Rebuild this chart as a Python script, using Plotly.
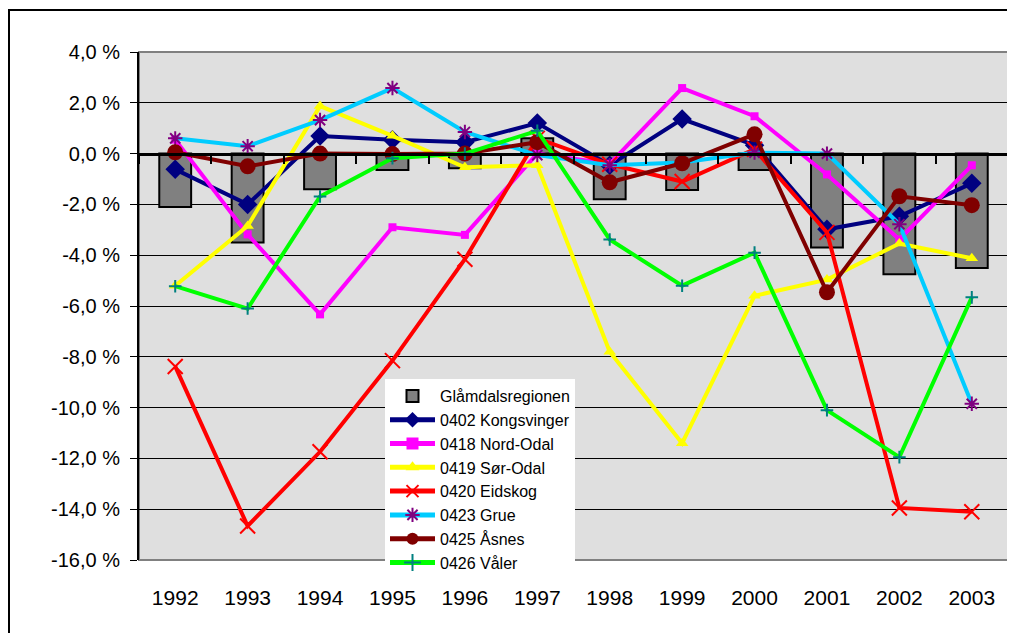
import plotly.graph_objects as go

years = ["1992", "1993", "1994", "1995", "1996", "1997", "1998", "1999", "2000", "2001", "2002", "2003"]

region = [-2.1, -3.5, -1.4, -0.65, -0.58, 0.6, -1.8, -1.43, -0.65, -3.7, -4.75, -4.5]
kongsvinger = [-0.62, -2.0, 0.69, 0.55, 0.45, 1.2, -0.46, 1.36, 0.33, -2.98, -2.47, -1.17]
nord_odal = [0.55, -3.18, -6.33, -2.9, -3.2, 0.0, -0.4, 2.58, 1.47, -0.82, -3.38, -0.46]
sor_odal = [-5.2, -2.85, 1.87, 0.7, -0.54, -0.46, -7.8, -11.4, -5.6, -4.96, -3.54, -4.12]
eidskog = [-8.38, -14.66, -11.74, -8.15, -4.16, 0.6, -0.42, -1.1, 0.17, -3.1, -13.95, -14.1]
grue = [0.6, 0.29, 1.32, 2.58, 0.85, -0.06, -0.46, -0.35, 0.04, 0.0, -2.78, -9.85]
asnes = [0.05, -0.5, 0.0, -0.02, 0.0, 0.45, -1.13, -0.38, 0.76, -5.46, -1.68, -2.03]
valer = [-5.22, -6.1, -1.69, -0.18, 0.0, 0.9, -3.38, -5.2, -3.9, -10.1, -11.95, -5.66]

ytick_vals = [4, 2, 0, -2, -4, -6, -8, -10, -12, -14, -16]
ytick_text = ["4,0 %", "2,0 %", "0,0 %", "-2,0 %", "-4,0 %", "-6,0 %", "-8,0 %",
              "-10,0 %", "-12,0 %", "-14,0 %", "-16,0 %"]

FONT = "Liberation Sans, Arial, sans-serif"

fig = go.Figure()

fig.add_trace(go.Bar(
    x=years, y=region, name="Glåmdalsregionen",
    marker=dict(color="#808080", line=dict(color="black", width=2)),
))

series = [
    ("0402 Kongsvinger", kongsvinger, "#000080", dict(symbol="diamond", size=15, color="#000080")),
    ("0418 Nord-Odal", nord_odal, "#FF00FF", dict(symbol="square", size=8, color="#FF00FF")),
    ("0419 Sør-Odal", sor_odal, "#FFFF00", dict(symbol="triangle-up", size=11, color="#FFFF00")),
    ("0420 Eidskog", eidskog, "#FF0000", dict(symbol="x-thin", size=15, color="#FF0000",
                                             line=dict(color="#FF0000", width=2))),
    ("0423 Grue", grue, "#00CCFF", dict(symbol="asterisk", size=12, color="#800080",
                                      line=dict(color="#800080", width=2))),
    ("0425 Åsnes", asnes, "#800000", dict(symbol="circle", size=16, color="#800000")),
    ("0426 Våler", valer, "#00FF00", dict(symbol="cross-thin", size=9, color="#008080",
                                        line=dict(color="#008080", width=2))),
]
for name, vals, lc, mk in series:
    fig.add_trace(go.Scatter(
        x=years, y=vals, name=name, mode="lines+markers",
        line=dict(color=lc, width=4), marker=mk,
    ))

# secondary x-axis drawn at the zero line with boundary ticks
fig.add_trace(go.Scatter(x=[0], y=[None], xaxis="x2", showlegend=False, hoverinfo="skip"))

# page body has an 8px margin: figure is sized/positioned to compensate
W, H = 1007, 625
ML, MT, MR, MB = 131, 44, 7, 73
PW, PH = W - ML - MR, H - MT - MB

fig.update_layout(
    width=W, height=H,
    margin=dict(l=ML, r=MR, t=MT, b=MB),
    paper_bgcolor="white",
    plot_bgcolor="#dfdfdf",
    font=dict(family=FONT, size=20, color="black"),
    bargap=0.56,
    showlegend=True,
    legend=dict(
        x=(385 - 8 - ML) / PW, y=(MT + PH - (379 - 8)) / PH, xanchor="left", yanchor="top",
        bgcolor="white", borderwidth=0,
        font=dict(family=FONT, size=16, color="black"),
        tracegroupgap=0, itemsizing="constant", itemwidth=45,
    ),
    xaxis=dict(
        type="category", categoryorder="array", categoryarray=years,
        range=[-0.5, 11.5],
        showline=False, showgrid=False, zeroline=False,
        ticks="outside", ticklen=19, tickcolor="rgba(0,0,0,0)",
        tickfont=dict(family=FONT, size=21),
    ),
    xaxis2=dict(
        overlaying="x", anchor="free", position=0.8, side="bottom",
        range=[-0.5, 11.5], showgrid=False, zeroline=False,
        showline=True, linecolor="black", linewidth=3,
        tickvals=[i - 0.5 for i in range(13)],
        ticks="outside", ticklen=8, tickwidth=2, tickcolor="black",
        showticklabels=False,
    ),
    yaxis=dict(
        range=[-16, 4], tickvals=ytick_vals, ticktext=ytick_text,
        showgrid=True, gridcolor="black", gridwidth=1,
        zeroline=False,
        showline=True, linecolor="black", linewidth=2,
        ticks="outside", ticklen=7, tickcolor="black",
        ticklabelstandoff=6,
        tickfont=dict(family=FONT, size=20),
    ),
    shapes=[
        dict(type="rect", xref="paper", yref="paper", x0=0, x1=1, y0=0, y1=1,
             line=dict(color="#808080", width=2), layer="below"),
        dict(type="rect", xref="paper", yref="paper",
             x0=(1 - ML) / PW, x1=1.1, y0=-0.5, y1=(MT + PH - 2) / PH,
             line=dict(color="black", width=2), layer="below"),
    ],
)

fig.write_html("out.html")
